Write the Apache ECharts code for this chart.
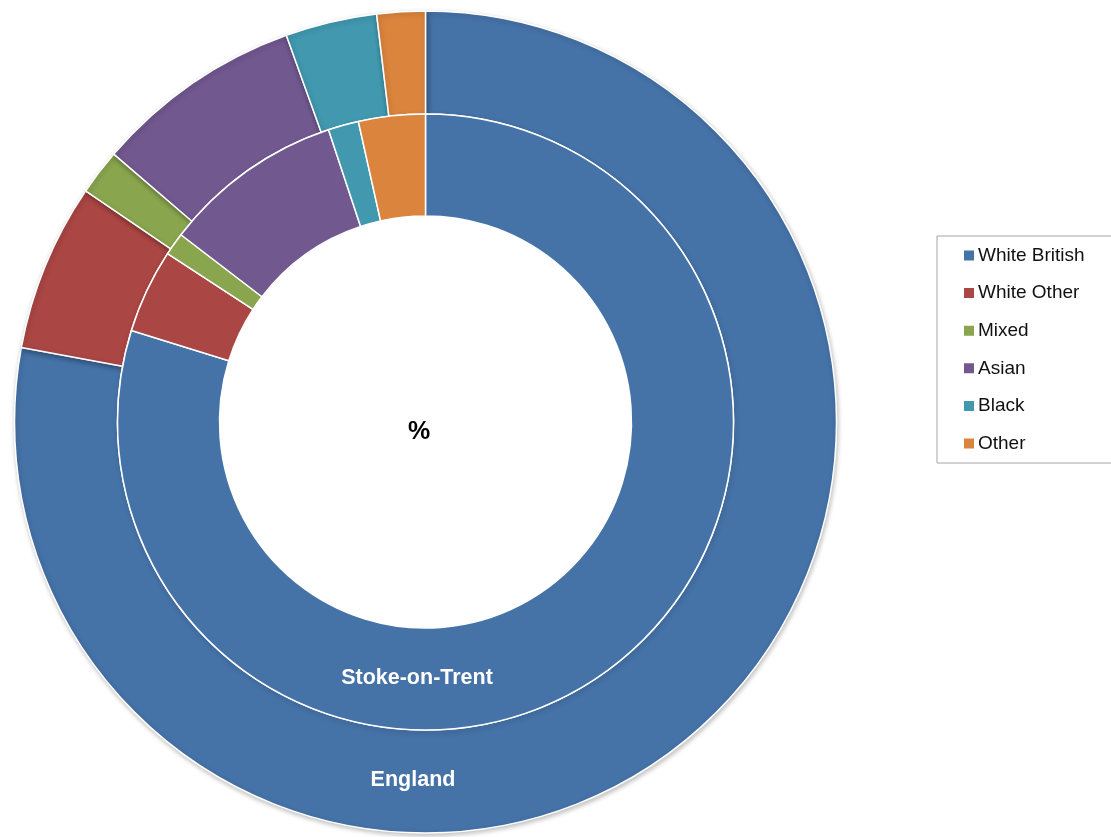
<!DOCTYPE html>
<html>
<head>
<meta charset="utf-8">
<script src="https://cdn.jsdelivr.net/npm/echarts@6/dist/echarts.min.js"></script>
<style>html,body{margin:0;padding:0;background:#fff}#c{width:1111px;height:837px}</style>
</head>
<body>
<div id="c"></div>
<script>
const categories = ['White British', 'White Other', 'Mixed', 'Asian', 'Black', 'Other'];
const stokeValues = [79.8, 4.4, 1.2, 9.5, 1.6, 3.5];
const englandValues = [77.9, 6.6, 1.8, 8.2, 3.6, 1.9];
const colors = ['#4572A7', '#AA4643', '#89A54E', '#71588F', '#4198AF', '#DB843D'];
const ringNames = ['Stoke-on-Trent', 'England'];
const unitLabel = '%';

const chart = echarts.init(document.getElementById('c'), null, {renderer: 'canvas'});
const toData = vals => categories.map((c, i) => ({name: c, value: vals[i]}));
const font = '"Liberation Sans", Arial, sans-serif';

chart.setOption({
  animation: false,
  color: colors,
  legend: {
    orient: 'vertical',
    left: 937, top: 236,
    padding: [10, 40, 10, 25],
    borderColor: '#a6a6a6', borderWidth: 1,
    itemWidth: 12, itemHeight: 12, itemGap: 18.6,
    icon: 'rect',
    textStyle: {fontFamily: font, fontSize: 19, color: '#111', padding: [0, 0, 0, -2]},
    data: categories
  },
  graphic: [
    {type: 'text', x: 419, y: 432.5, z: 10, style: {text: unitLabel, fill: '#000', font: 'bold 25px ' + font, textAlign: 'center', textVerticalAlign: 'middle'}},
    {type: 'text', x: 417, y: 678, z: 10, style: {text: ringNames[0], fill: '#fff', font: 'bold 21.5px ' + font, textAlign: 'center', textVerticalAlign: 'middle'}},
    {type: 'text', x: 413, y: 780, z: 10, style: {text: ringNames[1], fill: '#fff', font: 'bold 21.5px ' + font, textAlign: 'center', textVerticalAlign: 'middle'}}
  ],
  series: [
    {
      name: ringNames[1], type: 'pie',
      center: [425.5, 422], radius: [308, 411],
      startAngle: 90, clockwise: true,
      label: {show: false}, labelLine: {show: false},
      itemStyle: {borderColor: '#fff', borderWidth: 1.5,
        shadowBlur: 5, shadowColor: 'rgba(0,0,0,0.25)', shadowOffsetX: 1, shadowOffsetY: 2},
      emphasis: {disabled: true},
      data: toData(englandValues), z: 2
    },
    {
      name: ringNames[0], type: 'pie',
      center: [425.5, 422], radius: [206, 308],
      startAngle: 90, clockwise: true,
      label: {show: false}, labelLine: {show: false},
      itemStyle: {borderColor: '#fff', borderWidth: 1.5},
      emphasis: {disabled: true},
      data: toData(stokeValues), z: 3
    }
  ]
});
</script>
</body>
</html>
